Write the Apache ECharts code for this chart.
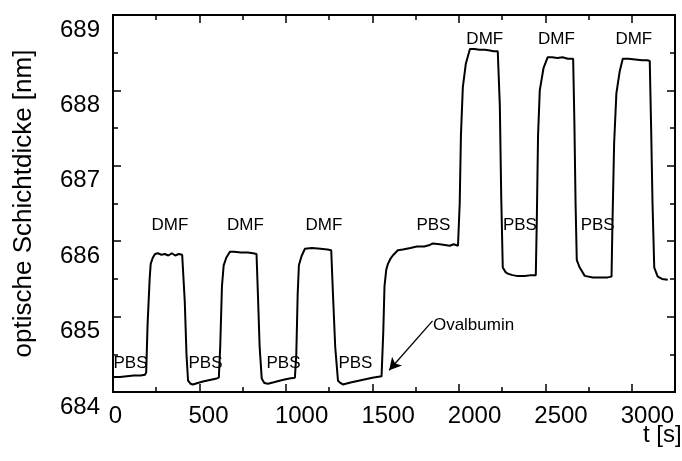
<!DOCTYPE html>
<html>
<head>
<meta charset="utf-8">
<script src="https://cdn.jsdelivr.net/npm/echarts@6/dist/echarts.min.js"></script>
<style>
  html, body { margin: 0; padding: 0; background: #fff; }
  #chart { width: 682px; height: 461px; }
</style>
</head>
<body>
<div id="chart"></div>
<script>
// Measurement: optical layer thickness over time (PBS / DMF rinsing, Ovalbumin binding)
const timeS = [
  0, 40, 80, 120, 160, 185, 192,
  200, 212, 218, 230, 243, 260, 280, 300, 320, 340, 360, 380, 400, 408,
  415, 425, 434, 448, 462, 490, 520, 560, 600, 612,
  620, 630, 640, 655, 676, 700, 740, 780, 810, 830,
  838, 848, 860, 875, 896, 930, 980, 1020, 1052,
  1060, 1068, 1075, 1090, 1110, 1150, 1200, 1240, 1262,
  1272, 1285, 1301, 1315, 1329, 1380, 1440, 1500, 1553, 1558,
  1563, 1570, 1580, 1590, 1605, 1618, 1647, 1676, 1720, 1757, 1800, 1832, 1850, 1890, 1948, 1970, 1995, 2000,
  2005, 2012, 2023, 2040, 2064, 2090, 2120, 2150, 2180, 2200, 2225,
  2237, 2245, 2254, 2270, 2283, 2310, 2335, 2380, 2420, 2445,
  2451, 2458, 2468, 2490, 2514, 2540, 2570, 2600, 2630, 2661,
  2668, 2675, 2682, 2699, 2728, 2775, 2820, 2860, 2883,
  2888, 2898, 2911, 2930, 2948, 2980, 3020, 3060, 3090, 3104,
  3112, 3120, 3130, 3150, 3175, 3208
];
const thicknessNm = [
  684.20, 684.20, 684.21, 684.22, 684.22, 684.23, 684.26,
  684.90, 685.50, 685.70, 685.78, 685.83, 685.84, 685.82, 685.83, 685.81, 685.84, 685.81, 685.83, 685.82, 685.80,
  685.20, 684.50, 684.15, 684.11, 684.10, 684.12, 684.14, 684.16, 684.18, 684.19,
  684.60, 685.40, 685.68, 685.78, 685.86, 685.86, 685.85, 685.85, 685.84, 685.83,
  685.30, 684.60, 684.18, 684.12, 684.11, 684.13, 684.16, 684.18, 684.19,
  684.50, 685.30, 685.68, 685.80, 685.90, 685.91, 685.90, 685.89, 685.88,
  685.30, 684.60, 684.15, 684.12, 684.10, 684.13, 684.16, 684.19, 684.21, 684.22,
  684.80, 685.40, 685.62, 685.70, 685.77, 685.81, 685.88, 685.89, 685.91, 685.93, 685.93, 685.95, 685.97, 685.96, 685.94, 685.96, 685.94, 685.93,
  686.50, 687.40, 688.04, 688.35, 688.55, 688.55, 688.54, 688.54, 688.53, 688.52, 688.52,
  687.80, 686.60, 685.65, 685.59, 685.57, 685.55, 685.54, 685.54, 685.55, 685.55,
  686.30, 687.40, 688.00, 688.30, 688.44, 688.44, 688.43, 688.44, 688.42, 688.42,
  687.60, 686.50, 685.75, 685.65, 685.54, 685.52, 685.52, 685.52, 685.53,
  686.20, 687.30, 687.96, 688.25, 688.42, 688.42, 688.41, 688.40, 688.40, 688.39,
  687.50, 686.50, 685.65, 685.53, 685.50, 685.49
];

// Phase annotations (buffer / solvent)
const phaseText = ['PBS', 'PBS', 'PBS', 'PBS', 'DMF', 'DMF', 'DMF',
                   'PBS', 'PBS', 'PBS', 'DMF', 'DMF', 'DMF'];
const phaseT = [101, 535, 986, 1402, 329, 766, 1220,
                1853, 2353, 2803, 2150, 2564, 3012];
const phaseV = [684.386, 684.386, 684.386, 684.386, 686.207, 686.207, 686.207,
                686.207, 686.207, 686.207, 688.681, 688.681, 688.681];

// Injection marker
const markerText = 'Ovalbumin';
const markerTextPos = [1850, 684.878];
const markerArrowFrom = [1848, 684.944];
const markerArrowTo = [1597, 684.289];

const xTicks = { min: 0, max: 3250, step: 500, minorStep: 250 };
const yTicks = { min: 684, max: 689, step: 1 };

const FONT = "'Liberation Sans', Arial, sans-serif";

const chart = echarts.init(document.getElementById('chart'), null, { renderer: 'canvas' });

const lineData = timeS.map((t, i) => [t, thicknessNm[i]]);
const labelData = phaseText.map((s, i) => ({ name: s, value: [phaseT[i], phaseV[i]] }));
labelData.push({
  name: markerText,
  value: markerTextPos,
  label: { align: 'left' }
});

function hAxis(pos, step, tickLen, showLine, showLabel, name) {
  return {
    type: 'value', position: pos, gridIndex: 0,
    min: xTicks.min, max: xTicks.max, interval: step,
    splitLine: { show: false },
    axisLine: { show: showLine, onZero: false, lineStyle: { color: '#000', width: 2 } },
    axisTick: { show: true, inside: true, length: tickLen, lineStyle: { color: '#000', width: 1.5 } },
    axisLabel: showLabel ? {
      show: true, color: '#000', fontSize: 24, fontFamily: FONT, margin: 12,
      align: 'left', padding: [0, 0, 0, -11], showMaxLabel: false,
      formatter: v => (v === 0 ? '\u00a00' : String(v))
    } : { show: false },
    name: name || '',
    nameLocation: 'end',
    nameGap: -32,
    nameMoveOverlap: false,
    nameTextStyle: {
      color: '#000', fontSize: 24, fontFamily: FONT,
      align: 'left', verticalAlign: 'top', padding: [31, 0, 0, 0]
    }
  };
}

function vAxis(pos, showLabel, name) {
  return {
    type: 'value', position: pos, gridIndex: 0,
    min: yTicks.min, max: yTicks.max, interval: yTicks.step,
    splitLine: { show: false },
    axisLine: { show: true, onZero: false, lineStyle: { color: '#000', width: 2 } },
    axisTick: { show: true, inside: true, length: 8, lineStyle: { color: '#000', width: 1.5 } },
    minorTick: { show: true, splitNumber: 2, length: 5, lineStyle: { color: '#000', width: 1.5 } },
    axisLabel: showLabel ? {
      show: true, color: '#000', fontSize: 24, fontFamily: FONT, margin: 13,
      verticalAlign: 'top', padding: [3, 0, 0, 0], formatter: v => String(v)
    } : { show: false },
    name: name || '',
    nameLocation: 'middle',
    nameGap: 76,
    nameTextStyle: { color: '#000', fontSize: 26, fontFamily: FONT }
  };
}

chart.setOption({
  animation: false,
  backgroundColor: '#fff',
  grid: { left: 113, right: 7, top: 15, bottom: 69, containLabel: false, outerBoundsMode: 'none' },
  xAxis: [
    hAxis('bottom', xTicks.step, 8, true, true, 't [s]'),
    hAxis('bottom', xTicks.minorStep, 5, false, false),
    hAxis('top', xTicks.step, 8, true, false),
    hAxis('top', xTicks.minorStep, 5, false, false)
  ],
  yAxis: [
    vAxis('left', true, 'optische Schichtdicke [nm]'),
    vAxis('right', false)
  ],
  series: [
    {
      type: 'line',
      xAxisIndex: 0, yAxisIndex: 0,
      data: lineData,
      showSymbol: false,
      symbol: 'none',
      lineStyle: { color: '#000', width: 2 },
      markLine: {
        silent: true,
        symbol: ['none', 'arrow'],
        symbolSize: [10, 12],
        label: { show: false },
        lineStyle: { color: '#000', width: 1.3, type: 'solid' },
        data: [[{ coord: markerArrowFrom }, { coord: markerArrowTo }]]
      }
    },
    {
      type: 'scatter',
      xAxisIndex: 0, yAxisIndex: 0,
      data: labelData,
      symbolSize: 0,
      itemStyle: { opacity: 1 },
      label: {
        show: true, position: 'inside',
        formatter: p => p.name,
        color: '#000', opacity: 1, textBorderWidth: 0,
        fontSize: 17, fontFamily: FONT
      }
    }
  ]
});
</script>
</body>
</html>
